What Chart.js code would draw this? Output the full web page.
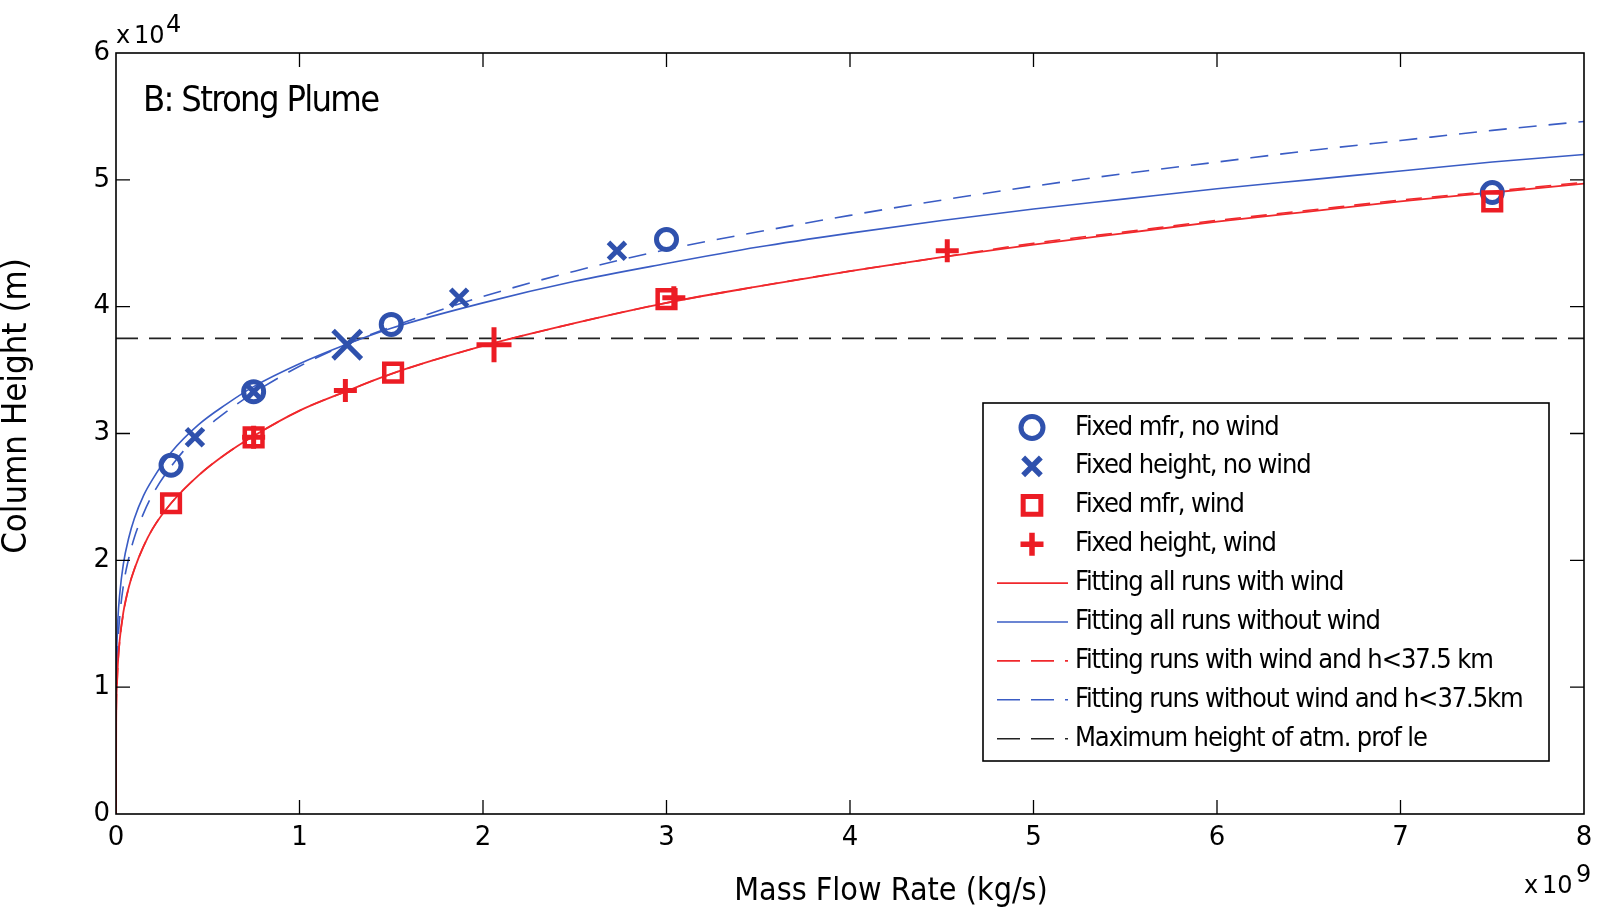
<!DOCTYPE html>
<html>
<head>
<meta charset="utf-8">
<script src="https://cdn.jsdelivr.net/npm/chart.js@4.4.1/dist/chart.umd.min.js"></script>
<style>
  html, body { margin: 0; padding: 0; background: #fff; overflow: hidden; }
  canvas { display: block; }
</style>
</head>
<body>
<canvas id="plume" width="1601" height="911"></canvas>
<script>
// model runs: x = mass flow rate (x1e9 kg/s), y = column height (x1e4 m)
const mfrNoWindX = [0.3, 0.75, 1.5, 3.0, 7.5];
const mfrNoWindY = [2.75, 3.33, 3.86, 4.53, 4.90];
const hNoWindX = [0.43, 0.75, 1.26, 1.87, 2.73];
const hNoWindY = [2.97, 3.33, 3.70, 4.07, 4.44];
const mfrWindX = [0.3, 0.75, 1.51, 3.0, 7.5];
const mfrWindY = [2.45, 2.97, 3.48, 4.06, 4.83];
const hWindX = [0.75, 1.25, 2.06, 3.04, 4.53];
const hWindY = [2.97, 3.34, 3.70, 4.07, 4.44];

// fitted curves
const fitX = [0, 0.001, 0.005, 0.01, 0.02, 0.04, 0.07, 0.1, 0.15, 0.2, 0.3, 0.45, 0.6, 0.75, 1, 1.25, 1.5, 2, 2.5, 3, 3.5, 4, 4.5, 5, 5.5, 6, 6.5, 7, 7.5, 8];
const fitWindAll   = [0, 0.72, 1.01, 1.18, 1.37, 1.59, 1.79, 1.93, 2.11, 2.25, 2.45, 2.67, 2.84, 2.98, 3.18, 3.33, 3.47, 3.69, 3.87, 4.03, 4.16, 4.28, 4.39, 4.49, 4.58, 4.67, 4.75, 4.83, 4.90, 4.97];
const fitNoWindAll = [0, 1.00, 1.34, 1.53, 1.73, 1.97, 2.18, 2.33, 2.51, 2.64, 2.85, 3.07, 3.23, 3.37, 3.55, 3.70, 3.83, 4.03, 4.20, 4.34, 4.47, 4.58, 4.68, 4.77, 4.85, 4.93, 5.00, 5.07, 5.14, 5.20];
const fitWindLow   = [0, 0.70, 1.00, 1.17, 1.36, 1.58, 1.79, 1.93, 2.11, 2.25, 2.45, 2.67, 2.84, 2.98, 3.18, 3.33, 3.47, 3.69, 3.87, 4.03, 4.16, 4.28, 4.39, 4.50, 4.59, 4.68, 4.76, 4.84, 4.91, 4.98];
const fitNoWindLow = [0, 0.83, 1.16, 1.34, 1.55, 1.80, 2.02, 2.18, 2.37, 2.52, 2.74, 2.99, 3.17, 3.32, 3.53, 3.70, 3.84, 4.08, 4.28, 4.45, 4.59, 4.72, 4.84, 4.95, 5.05, 5.14, 5.23, 5.31, 5.39, 5.46];
const maxHeightX = [0, 8];
const maxHeightY = [3.75, 3.75];

const xTicks = [0, 1, 2, 3, 4, 5, 6, 7, 8];
const yTicks = [0, 1, 2, 3, 4, 5, 6];

const BLUE = '#2f51ad', RED = '#ec1c24';
const BLUE_LINE = '#3a5cc4', RED_LINE = '#f0282c';
const COND = "'DejaVu Sans Condensed', 'DejaVu Sans', sans-serif";
const SANS = "'DejaVu Sans', sans-serif";
const NONE = 'rgba(0,0,0,0)';

const pts = (xs, ys) => xs.map((x, i) => ({ x: x, y: ys[i] }));
const bigThird = (big, small) => c => (c.dataIndex === 2 ? big : small);

const datasets = [
  { label: 'Fixed mfr, no wind', data: pts(mfrNoWindX, mfrNoWindY), pointStyle: 'circle',
    pointRadius: 10, pointBorderWidth: 5, borderColor: BLUE, backgroundColor: NONE, order: 4,
    legendMark: { r: 11, lw: 5 } },
  { label: 'Fixed height, no wind', data: pts(hNoWindX, hNoWindY), pointStyle: 'crossRot',
    pointRadius: bigThird(20, 12), pointBorderWidth: 5, borderColor: BLUE, backgroundColor: NONE, order: 3,
    legendMark: { r: 12.5, lw: 5.5 } },
  { label: 'Fixed mfr, wind', data: pts(mfrWindX, mfrWindY), pointStyle: 'rect',
    pointRadius: 12.5, pointBorderWidth: 4.5, borderColor: RED, backgroundColor: NONE, order: 2,
    legendMark: { r: 12.5, lw: 5 } },
  { label: 'Fixed height, wind', data: pts(hWindX, hWindY), pointStyle: 'cross',
    pointRadius: bigThird(17.5, 11.5), pointBorderWidth: 5, borderColor: RED, backgroundColor: NONE, order: 1,
    legendMark: { r: 11.5, lw: 5.5 } },
  { label: 'Fitting all runs with wind', data: pts(fitX, fitWindAll), showLine: true,
    borderColor: RED_LINE, borderWidth: 1.8, pointRadius: 0, order: 6 },
  { label: 'Fitting all runs without wind', data: pts(fitX, fitNoWindAll), showLine: true,
    borderColor: BLUE_LINE, borderWidth: 1.6, pointRadius: 0, order: 7 },
  { label: 'Fitting runs with wind and h<37.5 km', data: pts(fitX, fitWindLow), showLine: true,
    borderColor: RED_LINE, borderWidth: 1.6, borderDash: [16, 10], pointRadius: 0, order: 5 },
  { label: 'Fitting runs without wind and h<37.5km', data: pts(fitX, fitNoWindLow), showLine: true,
    borderColor: BLUE_LINE, borderWidth: 1.6, borderDash: [18, 12], pointRadius: 0, order: 8 },
  { label: 'Maximum height of atm. prof le', data: pts(maxHeightX, maxHeightY), showLine: true,
    borderColor: '#222', borderWidth: 1.6, borderDash: [22, 11], pointRadius: 0, order: 9 }
];

// MATLAB-like box, inward ticks, legend and loose texts
const decor = {
  id: 'decor',
  afterDraw(chart) {
    const { ctx, chartArea: a, scales } = chart;
    ctx.save();
    ctx.strokeStyle = '#000';
    ctx.lineWidth = 1.6;
    ctx.strokeRect(a.left, a.top, a.right - a.left, a.bottom - a.top);
    ctx.lineWidth = 1.3;
    ctx.beginPath();
    xTicks.slice(1, -1).forEach(v => {
      const px = scales.x.getPixelForValue(v);
      ctx.moveTo(px, a.bottom); ctx.lineTo(px, a.bottom - 14);
      ctx.moveTo(px, a.top); ctx.lineTo(px, a.top + 14);
    });
    yTicks.slice(1, -1).forEach(v => {
      const py = scales.y.getPixelForValue(v);
      ctx.moveTo(a.left, py); ctx.lineTo(a.left + 14, py);
      ctx.moveTo(a.right, py); ctx.lineTo(a.right - 14, py);
    });
    ctx.stroke();

    // legend
    const lx = 983, ly = 403, lw = 566, lh = 358;
    ctx.fillStyle = '#fff';
    ctx.fillRect(lx, ly, lw, lh);
    ctx.lineWidth = 1.6;
    ctx.strokeRect(lx, ly, lw, lh);
    chart.data.datasets.forEach((ds, i) => {
      const cy = 427.5 + i * 38.9;
      ctx.save();
      ctx.strokeStyle = ds.borderColor;
      if (ds.legendMark) {
        ctx.fillStyle = NONE;
        ctx.lineWidth = ds.legendMark.lw;
        Chart.helpers.drawPoint(ctx, { pointStyle: ds.pointStyle, radius: ds.legendMark.r,
          borderWidth: ds.legendMark.lw, rotation: 0 }, 1032, cy);
      } else {
        ctx.lineWidth = ds.borderWidth;
        ctx.setLineDash(ds.borderDash ? [23, 11] : []);
        ctx.beginPath();
        ctx.moveTo(997, cy); ctx.lineTo(1068, cy);
        ctx.stroke();
      }
      ctx.restore();
      ctx.save();
      ctx.fillStyle = '#000';
      ctx.font = '27px ' + COND;
      ctx.letterSpacing = '-1.1px';
      ctx.textBaseline = 'middle';
      ctx.fillText(ds.label, 1075, cy);
      ctx.restore();
    });

    // panel title
    ctx.fillStyle = '#000';
    ctx.save();
    ctx.font = '36px ' + COND;
    ctx.letterSpacing = '-1.7px';
    ctx.textBaseline = 'alphabetic';
    ctx.fillText('B: Strong Plume', 143, 111);
    ctx.restore();

    // axis titles
    ctx.font = '32px ' + COND;
    ctx.textAlign = 'center';
    ctx.textBaseline = 'alphabetic';
    ctx.fillText('Mass Flow Rate (kg/s)', 891, 900);
    ctx.save();
    ctx.translate(26, 406);
    ctx.rotate(-Math.PI / 2);
    ctx.font = '34.5px ' + COND;
    ctx.fillText('Column Height (m)', 0, 0);
    ctx.restore();

    // exponents
    ctx.textAlign = 'left';
    ctx.font = '24px ' + SANS;
    ctx.fillText('x', 116, 43);
    ctx.fillText('10', 134, 43);
    ctx.fillText('4', 166, 32);
    ctx.fillText('x', 1524, 893);
    ctx.fillText('10', 1542, 893);
    ctx.fillText('9', 1576, 882);
    ctx.restore();
  }
};

new Chart(document.getElementById('plume'), {
  type: 'scatter',
  data: { datasets: datasets },
  options: {
    responsive: false,
    animation: false,
    events: [],
    layout: { autoPadding: false, padding: { top: 53, right: 17, left: 0, bottom: 0 } },
    elements: { line: { cubicInterpolationMode: 'monotone' } },
    plugins: { legend: { display: false }, tooltip: { enabled: false } },
    scales: {
      x: {
        type: 'linear', min: 0, max: 8,
        afterBuildTicks: s => { s.ticks = xTicks.map(v => ({ value: v })); },
        afterFit: s => { s.height = 97; },
        grid: { display: false, drawTicks: false },
        border: { display: false },
        ticks: { padding: 0, color: '#000', font: { family: SANS, size: 26, lineHeight: '48px' }, maxRotation: 0, autoSkip: false }
      },
      y: {
        type: 'linear', min: 0, max: 6,
        afterBuildTicks: s => { s.ticks = yTicks.map(v => ({ value: v })); },
        afterFit: s => { s.width = 116; },
        grid: { display: false, drawTicks: false },
        border: { display: false },
        ticks: { padding: 6, color: '#000', font: { family: SANS, size: 26 }, autoSkip: false }
      }
    }
  },
  plugins: [decor]
});
</script>
</body>
</html>
